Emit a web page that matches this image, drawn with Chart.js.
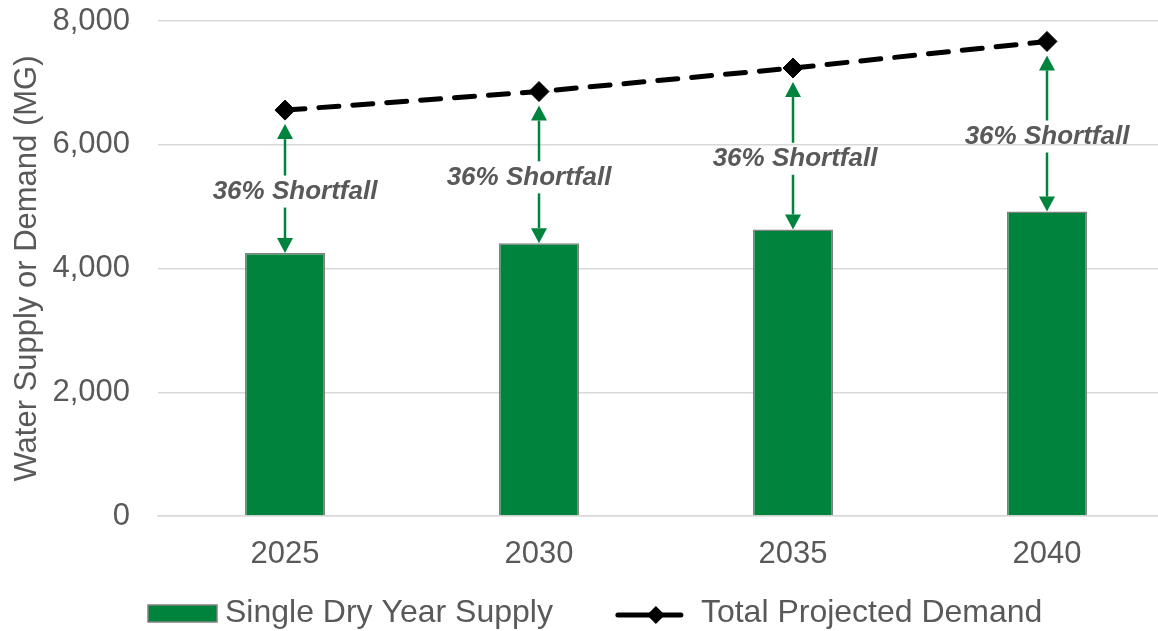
<!DOCTYPE html>
<html lang="en">
<head>
<meta charset="UTF-8">
<title>Single Dry Year Supply vs Total Projected Demand</title>
<script src="https://cdn.jsdelivr.net/npm/chart.js"></script>
<style>
  html, body { margin: 0; padding: 0; overflow: hidden; background: #fff; }
  #chart-container { width: 1185px; height: 631px; }
</style>
</head>
<body>
<div id="chart-container"><canvas id="supplyChart" width="1185" height="631"></canvas></div>
<script>
const years = ['2025', '2030', '2035', '2040'];
const supply = [4250, 4410, 4630, 4920];
const demand = [6560, 6860, 7240, 7670];
const shortfallLabels = ['36% Shortfall', '36% Shortfall', '36% Shortfall', '36% Shortfall'];
const seriesNames = ['Single Dry Year Supply', 'Total Projected Demand'];
const yTicks = [0, 2000, 4000, 6000, 8000];

const green = '#00843D';
const textGray = '#595959';
const fontFamily = '"Liberation Sans", Arial, sans-serif';
// the shortfall labels were nudged by hand in the original
const labelShiftX = [10, -10, 2, 0];

function arrow(ctx, x, from, tip) {
  const dir = tip < from ? -1 : 1;
  const head = 15, half = 8;
  ctx.beginPath();
  ctx.moveTo(x, from);
  ctx.lineTo(x, tip - dir * head);
  ctx.stroke();
  ctx.beginPath();
  ctx.moveTo(x, tip);
  ctx.lineTo(x - half, tip - dir * head);
  ctx.lineTo(x + half, tip - dir * head);
  ctx.closePath();
  ctx.fill();
}

const shortfallPlugin = {
  id: 'shortfall',
  afterDatasetsDraw(chart) {
    const ctx = chart.ctx;
    const bars = chart.getDatasetMeta(0).data;
    const pts = chart.getDatasetMeta(1).data;
    ctx.save();
    ctx.strokeStyle = green;
    ctx.fillStyle = green;
    ctx.lineWidth = 2.5;
    bars.forEach((bar, i) => {
      const top = pts[i].y;
      const mid = (bar.y + top) / 2 + 10;
      arrow(ctx, bar.x, mid - 16, top + 14);
      arrow(ctx, bar.x, mid + 16, bar.y);
    });
    ctx.fillStyle = textGray;
    ctx.font = 'italic bold 26px ' + fontFamily;
    ctx.textAlign = 'center';
    ctx.textBaseline = 'middle';
    bars.forEach((bar, i) => {
      const mid = (bar.y + pts[i].y) / 2 + 10;
      ctx.fillText(shortfallLabels[i], bar.x + labelShiftX[i], mid);
    });
    ctx.restore();
  }
};

const legendPlugin = {
  id: 'customLegend',
  afterDraw(chart) {
    const ctx = chart.ctx;
    const y = 613;
    let x = 148;
    ctx.save();
    ctx.font = '32px ' + fontFamily;
    ctx.textBaseline = 'middle';
    ctx.textAlign = 'left';
    // bar swatch
    ctx.fillStyle = green;
    ctx.fillRect(x, 605, 69, 17);
    ctx.strokeStyle = '#808080';
    ctx.lineWidth = 1.5;
    ctx.strokeRect(x, 605, 69, 17);
    x += 77;
    ctx.fillStyle = textGray;
    ctx.fillText(seriesNames[0], x, y);
    x += ctx.measureText(seriesNames[0]).width + 65;
    // line swatch
    ctx.strokeStyle = '#000';
    ctx.lineWidth = 5;
    ctx.lineCap = 'round';
    ctx.beginPath();
    ctx.moveTo(x, 615);
    ctx.lineTo(x + 63, 615);
    ctx.stroke();
    ctx.fillStyle = '#000';
    ctx.beginPath();
    ctx.moveTo(x + 38, 606);
    ctx.lineTo(x + 47, 615);
    ctx.lineTo(x + 38, 624);
    ctx.lineTo(x + 29, 615);
    ctx.closePath();
    ctx.fill();
    x += 83;
    ctx.fillStyle = textGray;
    ctx.fillText(seriesNames[1], x, y);
    ctx.restore();
  }
};

const ctx = document.getElementById('supplyChart').getContext('2d');
new Chart(ctx, {
  data: {
    labels: years,
    datasets: [
      {
        type: 'bar',
        label: seriesNames[0],
        data: supply,
        backgroundColor: green,
        borderColor: '#808080',
        borderWidth: 1.5,
        barPercentage: 0.315,
        categoryPercentage: 1,
        order: 2
      },
      {
        type: 'line',
        label: seriesNames[1],
        data: demand,
        borderColor: '#000',
        borderWidth: 5,
        borderDash: [20, 14],
        borderCapStyle: 'round',
        fill: false,
        tension: 0,
        pointStyle: 'rectRot',
        pointRadius: 10,
        pointBackgroundColor: '#000',
        pointBorderColor: '#000',
        pointBorderWidth: 1,
        order: 1
      }
    ]
  },
  options: {
    responsive: false,
    animation: false,
    layout: { padding: { top: 21, right: 2, left: 0, bottom: 0 } },
    plugins: {
      legend: { display: false },
      tooltip: { enabled: false }
    },
    scales: {
      x: {
        grid: { display: false, drawTicks: false },
        border: { display: true, color: '#d9d9d9', width: 1.5 },
        ticks: { color: textGray, font: { size: 31, family: fontFamily }, padding: 20 },
        afterFit: s => { s.height = 115; s.paddingLeft = 0; s.paddingRight = 0; }
      },
      y: {
        min: 0,
        max: 8000,
        afterBuildTicks: s => { s.ticks = yTicks.map(v => ({ value: v })); },
        grid: { color: '#d9d9d9', lineWidth: 1.5, drawTicks: false },
        border: { display: false },
        ticks: {
          color: textGray,
          font: { size: 31, family: fontFamily },
          padding: 28,
          callback: v => v.toLocaleString('en-US')
        },
        title: {
          display: true,
          text: 'Water Supply or Demand (MG)',
          color: textGray,
          font: { size: 31, family: fontFamily },
          padding: { top: 9, bottom: 0 }
        },
        afterFit: s => { s.width = 158; s.paddingTop = 0; s.paddingBottom = 0; }
      }
    }
  },
  plugins: [shortfallPlugin, legendPlugin]
});
</script>
</body>
</html>
